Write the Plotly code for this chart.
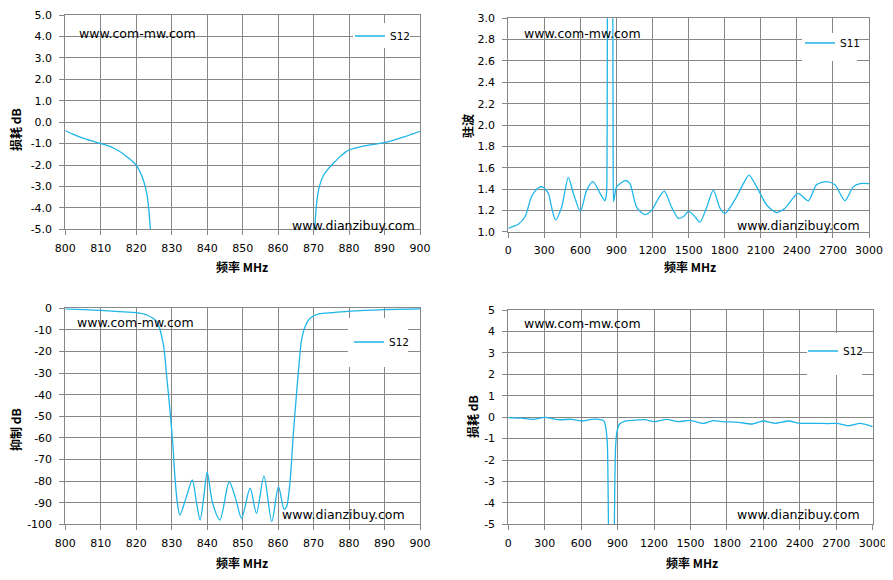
import plotly.graph_objects as go

W, H = 893, 580
PAGE_PAD = 8  # browser body margin around the plot div
FW, FH = W - PAGE_PAD, H - PAGE_PAD

# ---- data ----
# top-left: S12 insertion loss, 800-900 MHz (in-band values fall far below the axis)
loss_freq = [800, 802, 804, 806, 808, 810, 812, 814, 816, 818, 819, 820, 821, 822, 823, 823.5,
             824, 825, 826, 868, 869.5, 870.3, 870.9, 871.6, 872.8, 874, 875.1, 876, 877, 878,
             879, 880, 882, 884, 886, 888, 890, 892, 894, 896, 898, 900]
loss_db = [-0.39, -0.55, -0.69, -0.80, -0.90, -1.0, -1.1, -1.24, -1.44, -1.70, -1.84, -2.0, -2.3,
           -2.7, -3.35, -4.0, -5.0, -7, -15, -15, -7, -5.0, -3.72, -3.02, -2.48, -2.2, -2.0,
           -1.85, -1.68, -1.53, -1.40, -1.30, -1.20, -1.12, -1.06, -1.01, -0.96, -0.87, -0.77,
           -0.66, -0.55, -0.43]

# top-right: S11 VSWR, 0-3000 MHz (stopband VSWR runs off the top)
vswr_freq = [0, 40, 83, 139, 194, 249, 285, 333, 360, 393, 444, 499, 541, 600, 652, 705, 763, 804,
             812, 818, 822, 826, 847, 868, 872, 876, 884, 901, 976, 1012, 1067, 1135, 1192, 1248,
             1298, 1358, 1414, 1455, 1500, 1545, 1594, 1650, 1705, 1761, 1802, 1885, 1955, 2002,
             2080, 2149, 2230, 2301, 2410, 2495, 2564, 2648, 2717, 2800, 2869, 2925, 3000]
vswr = [1.03, 1.05, 1.07, 1.14, 1.33, 1.41, 1.42, 1.36, 1.23, 1.11, 1.23, 1.51, 1.36, 1.19, 1.39,
        1.47, 1.36, 1.29, 1.32, 1.38, 1.9, 4.0, 40, 4.0, 1.7, 1.28, 1.33, 1.42, 1.48, 1.45, 1.23,
        1.16, 1.20, 1.31, 1.38, 1.23, 1.125, 1.14, 1.19, 1.15, 1.09, 1.23, 1.39, 1.22, 1.17,
        1.30, 1.45, 1.53, 1.39, 1.25, 1.18, 1.22, 1.36, 1.29, 1.44, 1.47, 1.44, 1.29, 1.42,
        1.45, 1.45]

# bottom-left: S12 rejection, 800-900 MHz
rej_freq = [800, 810, 815, 820, 823, 825.8, 827.6, 828.6, 829.5, 830.3, 830.9, 831.6, 832.3, 834,
            835.8, 837, 838, 839, 840, 841.5, 843.6, 846.2, 848, 849.7, 852.1, 853.9, 856, 858.2,
            860.1, 861.7, 862.4, 863.4, 864.3, 865.2, 866.0, 866.6, 867.6, 869, 871.5, 875.5,
            880.3, 889.7, 900]
rej_db = [-0.3, -1.0, -1.5, -2.0, -3.1, -6.2, -16.2, -31.7, -47, -62.5, -78, -90.3, -95.7, -88,
          -79.5, -90, -98, -88, -75.9, -90, -98, -80.3, -88, -97.2, -83.3, -94.9, -77.6, -98.8,
          -82.6, -93.1, -91.8, -79.5, -57.9, -39.4, -23.9, -14.7, -8.5, -4.6, -2.6, -2.0,
          -1.3, -0.6, -0.2]

# bottom-right: S12 loss, 0-3000 MHz (stopband notch runs off the bottom)
wide_freq = [0, 110, 206, 302, 412, 522, 610, 686, 769, 790, 800, 810, 816, 821, 826, 849,
             872, 877, 884, 895, 915, 961, 1071, 1126, 1208, 1304, 1400, 1496, 1606, 1689, 1757,
             1895, 2004, 2097, 2196, 2306, 2402, 2526, 2636, 2705, 2799, 2896, 3000]
wide_db = [-0.02, -0.05, -0.10, -0.01, -0.12, -0.10, -0.18, -0.10, -0.13, -0.2, -0.4, -0.83,
           -1.3, -3, -6, -90, -6, -3, -1.3, -0.67, -0.33, -0.18, -0.13, -0.12, -0.21, -0.10,
           -0.21, -0.15, -0.29, -0.16, -0.21, -0.24, -0.32, -0.18, -0.29, -0.18, -0.29, -0.29,
           -0.30, -0.29, -0.40, -0.29, -0.44]

# tick values and labels
narrow_ticks = [800, 810, 820, 830, 840, 850, 860, 870, 880, 890, 900]
wide_ticks = [0, 300, 600, 900, 1200, 1500, 1800, 2100, 2400, 2700, 3000]
loss_ticks = [5, 4, 3, 2, 1, 0, -1, -2, -3, -4, -5]
loss_labels = ["5.0", "4.0", "3.0", "2.0", "1.0", "0.0", "-1.0", "-2.0", "-3.0", "-4.0", "-5.0"]
vswr_ticks = [1.0, 1.2, 1.4, 1.6, 1.8, 2.0, 2.2, 2.4, 2.6, 2.8, 3.0]
vswr_labels = ["1.0", "1.2", "1.4", "1.6", "1.8", "2.0", "2.2", "2.4", "2.6", "2.8", "3.0"]
rej_ticks = [0, -10, -20, -30, -40, -50, -60, -70, -80, -90, -100]
rej_labels = ["0", "-10", "-20", "-30", "-40", "-50", "-60", "-70", "-80", "-90", "-100"]
wide_loss_labels = ["5", "4", "3", "2", "1", "0", "-1", "-2", "-3", "-4", "-5"]

LINE_COLOR = "#1FB5E9"
GRID_COLOR = "#878787"
TICK_FONT = dict(family="DejaVu Sans", size=11, color="#000000")
MARK_FONT = dict(family="DejaVu Sans", size=12.5, color="#000000")
TITLE_FONT = dict(family="Noto Sans CJK SC", size=12, color="#000000", weight="bold")

# plot areas in page pixels: left, top, right, bottom
PANELS = [
    (65.3, 15, 420, 229.3),
    (508.3, 18.3, 869, 231.7),
    (65.3, 308.3, 420, 524.3),
    (508.3, 310, 872.7, 524.3),
]


def px(x):
    return (x - PAGE_PAD) / FW


def py(y):
    return 1 - (y - PAGE_PAD) / FH


def axis_style(**kw):
    base = dict(
        showgrid=True, gridcolor=GRID_COLOR, gridwidth=1,
        showline=True, linecolor=GRID_COLOR, linewidth=1, mirror=True,
        ticks="outside", ticklen=5, tickcolor=GRID_COLOR, tickwidth=1,
        zeroline=False, tickfont=TICK_FONT, fixedrange=True, tickmode="array",
    )
    base.update(kw)
    return base


fig = go.Figure()

series = [
    (loss_freq, loss_db, "S12", 0.8),
    (vswr_freq, vswr, "S11", 0.7),
    (rej_freq, rej_db, "S12", 0.8),
    (wide_freq, wide_db, "S12", 0.6),
]
for i, (xs, ys, name, smooth) in enumerate(series, start=1):
    suffix = "" if i == 1 else str(i)
    fig.add_trace(go.Scatter(
        x=xs, y=ys, name=name, mode="lines",
        line=dict(color=LINE_COLOR, width=1.3, shape="spline", smoothing=smooth),
        xaxis="x" + suffix, yaxis="y" + suffix,
        legend="legend" + suffix, showlegend=True,
    ))

axes = [
    dict(x=[800, 900], xt=narrow_ticks, y=[-5, 5], yt=loss_ticks, yl=loss_labels),
    dict(x=[0, 3000], xt=wide_ticks, y=[1, 3], yt=vswr_ticks, yl=vswr_labels),
    dict(x=[800, 900], xt=narrow_ticks, y=[-100, 0], yt=rej_ticks, yl=rej_labels),
    dict(x=[0, 3000], xt=wide_ticks, y=[-5, 5], yt=loss_ticks, yl=wide_loss_labels),
]

layout = dict(
    width=FW, height=FH,
    margin=dict(l=0, r=0, t=0, b=0, autoexpand=False),
    paper_bgcolor="white", plot_bgcolor="white",
    showlegend=True,
)

for i, ((l, t, r, b), ax) in enumerate(zip(PANELS, axes), start=1):
    suffix = "" if i == 1 else str(i)
    layout["xaxis" + suffix] = axis_style(
        domain=[px(l), px(r)], range=ax["x"], tickvals=ax["xt"],
        ticktext=[str(v) for v in ax["xt"]], ticklabelstandoff=3,
        anchor="y" + suffix,
    )
    layout["yaxis" + suffix] = axis_style(
        domain=[py(b), py(t)], range=ax["y"], tickvals=ax["yt"], ticktext=ax["yl"],
        ticklabelstandoff=5, anchor="x" + suffix,
    )

# legend boxes (white patches hiding the grid) and legend placement
LEGEND_BOX = [(353, 23, 410, 48), (802, 33, 857, 61), (348, 318, 408, 367), (807, 333, 862, 375)]
LEGEND_LINE = [(357, 36), (807, 43), (356, 342), (810, 351)]

shapes = []
for i, ((bl, bt, br, bb), (lx, ly)) in enumerate(zip(LEGEND_BOX, LEGEND_LINE), start=1):
    suffix = "" if i == 1 else str(i)
    shapes.append(dict(
        type="rect", xref="paper", yref="paper",
        x0=px(bl), x1=px(br), y0=py(bb), y1=py(bt),
        fillcolor="white", line=dict(width=0), layer="above",
    ))
    layout["legend" + suffix] = dict(
        x=px(lx - 7), y=py(ly), xanchor="left", yanchor="middle",
        bgcolor="rgba(0,0,0,0)", borderwidth=0,
        font=dict(family="DejaVu Sans", size=10.5, color="#000000"),
    )
layout["shapes"] = shapes

annotations = []
# watermarks
for (ax_, ay), (bx, by) in zip(
        [(77, 33), (522, 33), (75, 322), (522, 323)],
        [(417, 225), (862, 225), (407, 514), (862, 514)]):
    annotations.append(dict(x=px(ax_), y=py(ay), xref="paper", yref="paper", text="www.com-mw.com",
                            showarrow=False, xanchor="left", yanchor="middle", font=MARK_FONT))
    annotations.append(dict(x=px(bx), y=py(by), xref="paper", yref="paper", text="www.dianzibuy.com",
                            showarrow=False, xanchor="right", yanchor="middle", font=MARK_FONT))

# axis titles
for x, y in [(242, 266), (690, 266), (242, 562), (692, 562)]:
    annotations.append(dict(x=px(x), y=py(y), xref="paper", yref="paper", text="频率 MHz",
                            showarrow=False, xanchor="center", yanchor="middle", font=TITLE_FONT))
for x, y, txt in [(15, 130, "损耗 dB"), (468, 126, "驻波"), (15, 430, "抑制 dB"), (472, 417, "损耗 dB")]:
    annotations.append(dict(x=px(x), y=py(y), xref="paper", yref="paper", text=txt, textangle=-90,
                            showarrow=False, xanchor="center", yanchor="middle", font=TITLE_FONT))
layout["annotations"] = annotations

fig.update_layout(**layout)
fig.write_html("out.html")
